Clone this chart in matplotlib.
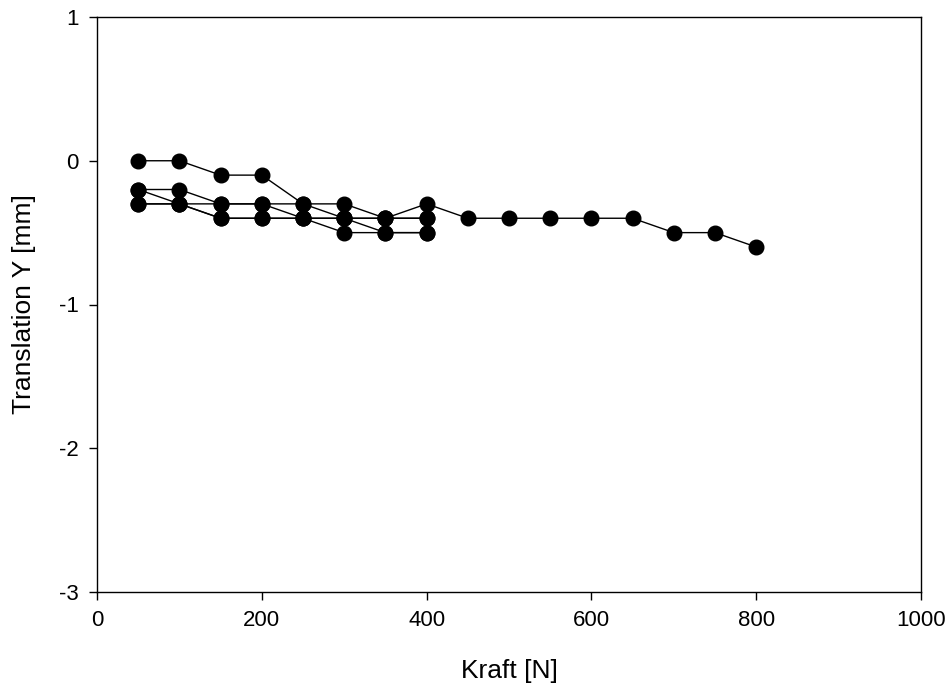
import matplotlib
matplotlib.use("Agg")
import matplotlib.pyplot as plt

plt.rcParams['font.family'] = ['Liberation Sans', 'DejaVu Sans']
plt.rcParams['axes.unicode_minus'] = False

kraft_short = [50, 100, 150, 200, 250, 300, 350, 400]
kraft_long = [50, 100, 150, 200, 250, 300, 350, 400, 450, 500, 550, 600, 650, 700, 750, 800]

trans_1 = [0.0, 0.0, -0.1, -0.1, -0.3, -0.3, -0.4, -0.3, -0.4, -0.4, -0.4, -0.4, -0.4, -0.5, -0.5, -0.6]
trans_2 = [-0.2, -0.2, -0.3, -0.3, -0.3, -0.4, -0.4, -0.4]
trans_3 = [-0.2, -0.3, -0.4, -0.4, -0.4, -0.5, -0.5, -0.5]
trans_4 = [-0.3, -0.3, -0.3, -0.3, -0.4, -0.4, -0.5, -0.5]
trans_5 = [-0.3, -0.3, -0.4, -0.4, -0.4, -0.4, -0.4, -0.4]

fig = plt.figure(figsize=(9.51, 6.93), dpi=100)
ax = fig.add_axes([97 / 951, 1 - 592 / 693, (921 - 97) / 951, (592 - 17) / 693])

style = dict(color='black', marker='o', markersize=10.5, linewidth=1.0)
ax.plot(kraft_long, trans_1, **style)
for ys in (trans_2, trans_3, trans_4, trans_5):
    ax.plot(kraft_short, ys, **style)

ax.set_xlim(0, 1000)
ax.set_ylim(-3, 1)
ax.set_xticks([0, 200, 400, 600, 800, 1000])
ax.set_yticks([-3, -2, -1, 0, 1])
ax.tick_params(direction='out', length=6, labelsize=16, width=1, pad=7)
ax.set_xlabel('Kraft [N]', fontsize=19)
ax.set_ylabel('Translation Y [mm]', fontsize=19)
ax.xaxis.set_label_coords(0.5, -0.117)
ax.yaxis.set_label_coords(-0.074, 0.5)
for s in ax.spines.values():
    s.set_linewidth(1.0)

fig.savefig('out.png', dpi=100)
